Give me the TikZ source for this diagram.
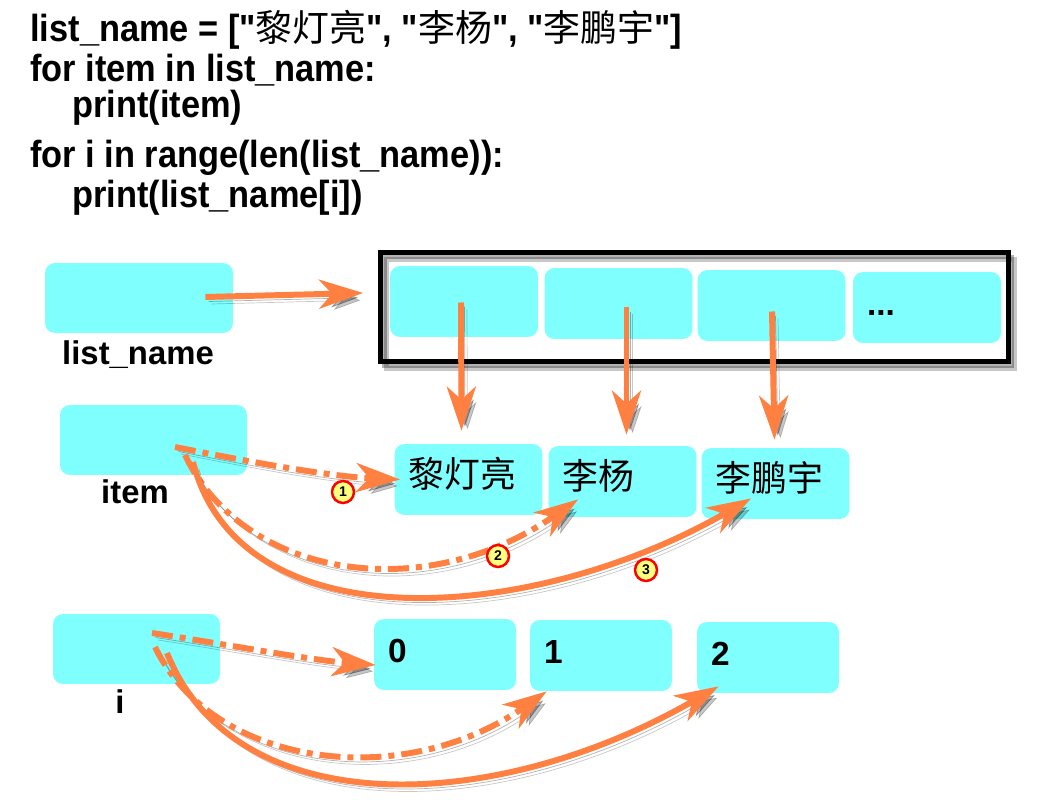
\documentclass[tikz,border=0pt]{standalone}
\usepackage{fontspec}
\setmainfont{Liberation Sans}
\newfontfamily\codefont[FakeStretch=0.91]{Liberation Sans}
\newfontfamily\cjk{Noto Sans CJK SC}
\newcommand\cjkcode[1]{{\cjk\mdseries\fontsize{21}{25}\selectfont #1}}
\usetikzlibrary{arrows.meta, calc}
\definecolor{lpcyan}{RGB}{128,255,255}
\definecolor{lporange}{RGB}{255,128,64}
\definecolor{lpyellow}{RGB}{255,255,128}

\begin{document}
\begin{tikzpicture}[x=0.02cm, y=-0.02cm,
  codeline/.style={anchor=base west, inner sep=0pt, font=\codefont\bfseries\fontsize{21.5}{26}\selectfont},
  varname/.style={anchor=base, inner sep=0pt, font=\bfseries\fontsize{18.7}{22}\selectfont},
  varbox/.style={rectangle, fill=lpcyan, rounded corners=0.2cm, minimum height=1.4cm},
  cell/.style={rectangle, fill=lpcyan, rounded corners=0.2cm, minimum height=1.42cm, inner xsep=0.28cm, inner ysep=0pt, text width=2.4cm, align=left, text height=16pt, text depth=7pt, font=\bfseries\fontsize{19}{23}\selectfont},
  valbox/.style={cell, font=\cjk\fontsize{20.4}{23}\selectfont},
  idxbox/.style={cell, text width=2.28cm},
  dropsh/.style={preaction={draw=black, opacity=.22, transform canvas={xshift=0.12cm, yshift=-0.14cm}},
                 preaction={draw=black, opacity=.3, transform canvas={xshift=0.07cm, yshift=-0.09cm}}},
  arr/.style={draw=lporange, line width=3.4pt, -{Stealth[length=0.88cm, width=0.58cm, inset=0.26cm]}, dropsh},
  arrd/.style={arr, dash pattern=on 0.42cm off 0.14cm on 0.12cm off 0.14cm},
  stepno/.style={circle, draw=red, line width=1.4pt, fill=lpyellow, minimum size=0.44cm, inner sep=0pt, font=\bfseries\fontsize{8}{9}\selectfont}
]
\useasboundingbox (0,0) rectangle (1038,800);
% code
\node[codeline] (l1) at (30,42) {list\_name = ["\cjkcode{黎灯亮}", "\cjkcode{李杨}", "\cjkcode{李鹏宇}"]};
\node[codeline] (l2) at (30,82) {for item in list\_name:};
\node[codeline] (l3) at (72,118) {print(item)};
\node[codeline] (l4) at (30,168) {for i in range(len(list\_name)):};
\node[codeline] (l5) at (72,208) {print(list\_name[i])};
% variables
\node[varbox, minimum width=3.76cm] (lname) at (139,298) {};
\node[varname] at (138,365) {list\_name};
\node[varbox, minimum width=3.74cm] (item) at (153.5,440) {};
\node[varname] at (135,503) {item};
\node[varbox, minimum width=3.34cm] (ivar) at (136.5,649) {};
\node[varname] at (120,713) {i};
% list object
\node[draw=black, line width=2.8pt, minimum width=12.56cm, minimum height=2.18cm, dropsh] (frame) at (694.5,307) {};
\node[cell] (c1) at (464,301.5) {};
\node[cell] (c2) at (618.5,303.5) {};
\node[cell] (c3) at (771.5,305.5) {};
\node[cell] (c4) at (927,307.5) {...};
% values
\node[valbox] (v1) at (468.5,479.5) {黎灯亮};
\node[valbox] (v2) at (622.5,481.5) {李杨};
\node[valbox] (v3) at (775.5,483.5) {李鹏宇};
% indexes
\node[idxbox] (n0) at (445,654.5) {0};
\node[idxbox] (n1) at (601,655.5) {1};
\node[idxbox] (n2) at (768,657.5) {2};
% arrows
\draw[arr] ($(lname.east)+(-28,-1)$) -- ($(frame.west)+(-15,-14)$);
\draw[arr] ($(c1.center)+(-3,1)$) -- ($(v1.north)+(-7,-13)$);
\draw[arr] ($(c2.center)+(8,4)$) -- ($(v2.north)+(4,-11)$);
\draw[arr] ($(c3.center)+(0.5,6)$) -- ($(v3.north)+(-1,-8)$);
\draw[arrd] ($(item.center)+(21.5,7)$) .. controls +(75,15) and +(-70,-3) .. ($(v1.west)+(6,0)$);
\draw[arrd] ($(item.center)+(31.5,15)$) .. controls +(60,125) and +(-153,106) .. ($(v2.south west)+(30,-18)$);
\draw[arr] ($(item.center)+(39.5,22)$) .. controls +(47,184) and +(-217,125) .. ($(v3.south west)+(50,-21)$);
\draw[arrd] ($(ivar.center)+(15.5,-16)$) .. controls +(78,12) and +(-66,-5) .. ($(n0.west)+(2,10.5)$);
\draw[arrd] ($(ivar.center)+(18.5,-2)$) .. controls +(60,123) and +(-142,99) .. ($(n1.south west)+(17,0)$);
\draw[arr] ($(ivar.center)+(30.5,4)$) .. controls +(68,170) and +(-226,130) .. ($(n2.south west)+(22,-7)$);
% steps
\node[stepno] (s1) at (343,492) {1};
\node[stepno] (s2) at (498,556) {2};
\node[stepno] (s3) at (646,570) {3};
\end{tikzpicture}
\end{document}
